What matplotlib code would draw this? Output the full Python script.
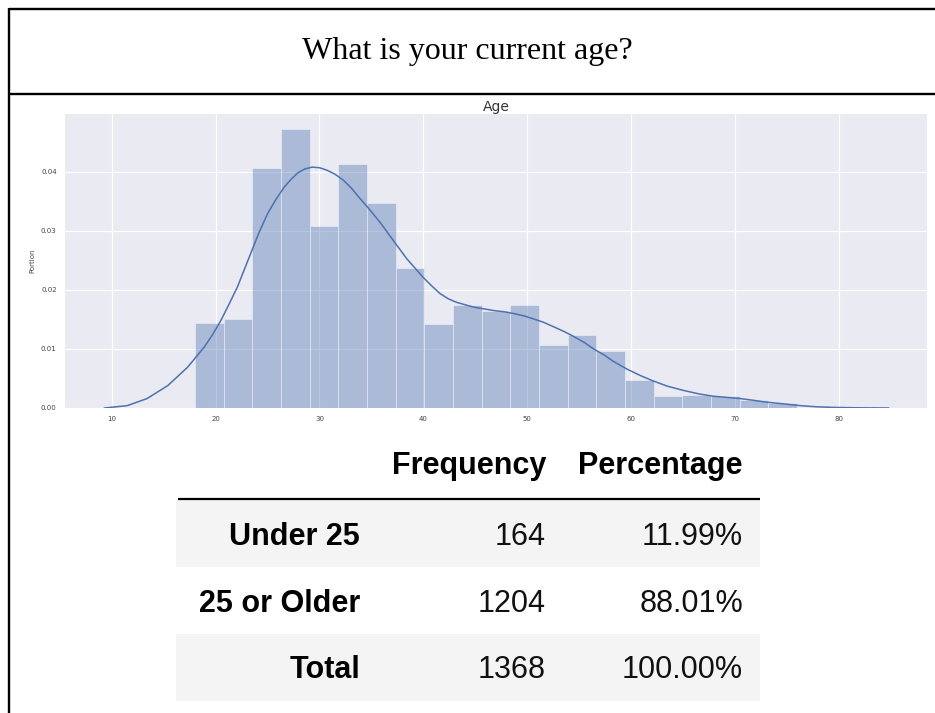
import numpy as np
import matplotlib
matplotlib.use('Agg')
import matplotlib.pyplot as plt
from matplotlib.patches import Rectangle

# histogram of ages (density per bin), 21 bins from 18 to 76
bin_start = 18
bin_end = 76
bar_heights = [0.0144, 0.0151, 0.0406, 0.0473, 0.0309, 0.0413, 0.0347, 0.0237,
               0.0142, 0.0175, 0.0164, 0.0175, 0.0107, 0.0123, 0.0097, 0.0048,
               0.0020, 0.0022, 0.0020, 0.0013, 0.0008]

# kde curve
kde_age = [9.3, 11.5, 13.4, 15.4, 17.3, 18.9, 19.7, 20.5, 21.3, 22.1, 22.8, 23.5,
           24.2, 25.0, 25.8, 26.6, 27.3, 27.9, 28.6, 29.3, 30.0, 30.7, 31.5, 32.3,
           33.1, 33.9, 34.6, 35.9, 37.1, 38.4, 39.2, 40.0, 40.8, 41.6, 42.4, 43.2,
           44.0, 44.8, 45.8, 46.8, 47.8, 48.7, 49.7, 50.6, 51.6, 52.5, 53.5, 54.5,
           55.5, 56.4, 57.4, 58.3, 59.6, 60.9, 62.1, 63.5, 65.0, 66.5, 67.9, 69.2,
           70.5, 71.8, 73.0, 74.7, 76.3, 77.9, 79.5, 82.0, 84.8]
kde_val = [0.0000, 0.0004, 0.0016, 0.0038, 0.0069, 0.0103, 0.0124, 0.0148, 0.0176,
           0.0205, 0.0236, 0.0267, 0.0298, 0.0329, 0.0353, 0.0374, 0.0388, 0.0398,
           0.0405, 0.0408, 0.0407, 0.0403, 0.0396, 0.0386, 0.0372, 0.0355, 0.0341,
           0.0313, 0.0284, 0.0253, 0.0237, 0.0221, 0.0207, 0.0194, 0.0185, 0.0179,
           0.0175, 0.0171, 0.0168, 0.0165, 0.0163, 0.0160, 0.0156, 0.0151, 0.0145,
           0.0138, 0.0130, 0.0121, 0.0111, 0.0100, 0.0090, 0.0079, 0.0066, 0.0055,
           0.0046, 0.0037, 0.0030, 0.0024, 0.0020, 0.0018, 0.0016, 0.0013, 0.0010,
           0.0007, 0.0004, 0.0002, 0.0001, 0.00003, 0.0000]

x_ticks = [10, 20, 30, 40, 50, 60, 70, 80]
y_ticks = [0.00, 0.01, 0.02, 0.03, 0.04]

# summary table
col_headers = ['Frequency', 'Percentage']
row_labels = ['Under 25', '25 or Older', 'Total']
frequencies = ['164', '1204', '1368']
percentages = ['11.99%', '88.01%', '100.00%']

W, H = 935, 713
fig = plt.figure(figsize=(W / 100, H / 100), dpi=100)

# overlay in pixel coords for frame, title and table
ov = fig.add_axes([0, 0, 1, 1])
ov.set_xlim(0, W)
ov.set_ylim(H, 0)
ov.set_axis_off()

ov.plot([9, W], [9, 9], color='black', lw=1.7, solid_capstyle='butt')
ov.plot([9, W], [94, 94], color='black', lw=1.7, solid_capstyle='butt')
ov.plot([9, 9], [8, H], color='black', lw=1.7, solid_capstyle='butt')
ov.text(467, 51, 'What is your current age?', ha='center', va='center',
        family='Liberation Serif', fontsize=23)

# table
shade = '#f4f4f4'
row_top = [500, 567, 634]
row_base = [545, 612, 678]
for i in range(len(row_labels)):
    if i % 2 == 0:
        ov.add_patch(Rectangle((176, row_top[i]), 584, 67, color=shade, lw=0))
ov.plot([178, 760], [499, 499], color='black', lw=1.6, solid_capstyle='butt')

font = 'Liberation Sans'
ov.text(546, 474, col_headers[0], ha='right', va='baseline', family=font,
        fontsize=22, fontweight='bold')
ov.text(743, 474, col_headers[1], ha='right', va='baseline', family=font,
        fontsize=22, fontweight='bold')
for i in range(len(row_labels)):
    ov.text(360, row_base[i], row_labels[i], ha='right', va='baseline',
            family=font, fontsize=22, fontweight='bold')
    ov.text(546, row_base[i], frequencies[i], ha='right', va='baseline',
            family=font, fontsize=22, color='#111111')
    ov.text(743, row_base[i], percentages[i], ha='right', va='baseline',
            family=font, fontsize=22, color='#111111')

# histogram axes
ax = fig.add_axes([65 / W, 1 - 408 / H, 862 / W, 294 / H])
ax.set_facecolor('#eaeaf2')
for s in ax.spines.values():
    s.set_visible(False)
ax.grid(True, color='white', lw=0.9)
ax.set_axisbelow(True)

edges = np.linspace(bin_start, bin_end, len(bar_heights) + 1)
ax.bar(edges[:-1], bar_heights, width=np.diff(edges), align='edge',
       color='#4c72b0', alpha=0.4, edgecolor='white', linewidth=0.7)
ax.plot(kde_age, kde_val, color='#4c72b0', lw=1.1)

ax.set_xlim(5.5, 88.5)
ax.set_ylim(0, 0.0498)
ax.set_xticks(x_ticks)
ax.set_yticks(y_ticks)
ax.set_yticklabels(['%.2f' % v for v in y_ticks])
ax.tick_params(length=0, labelsize=5, labelcolor='#444444', pad=6)
ax.set_ylabel('Portion', fontsize=5, color='#444444', labelpad=4)
ax.set_title('Age', fontsize=10, color='#333333', pad=1)

fig.savefig('out.png', dpi=100)
